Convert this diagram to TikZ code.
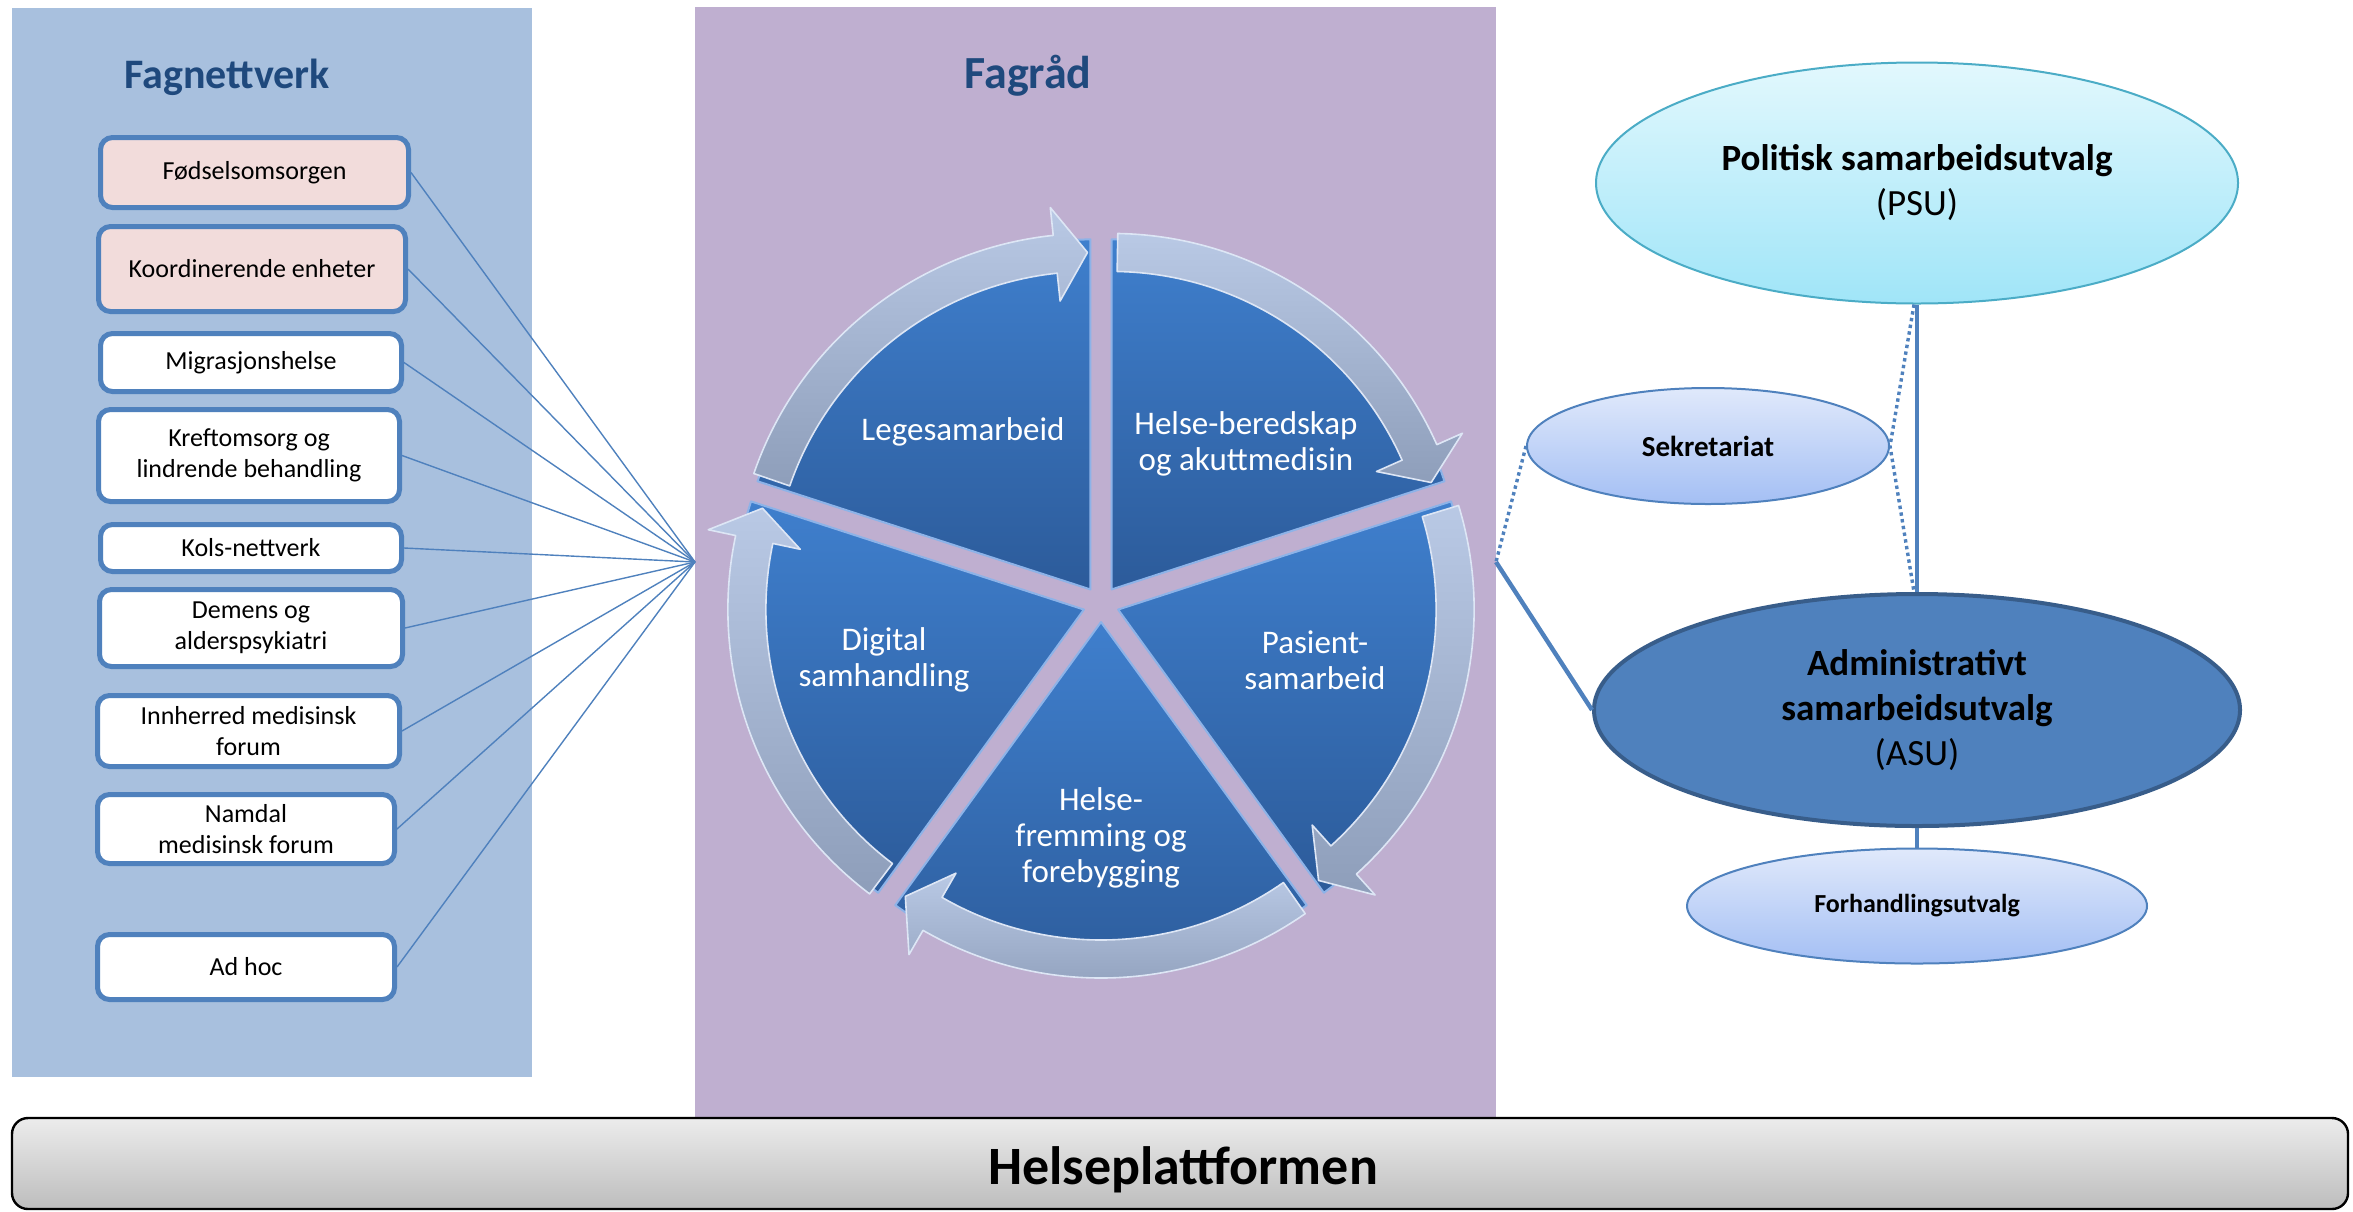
\documentclass[tikz,border=0pt]{standalone}
\usepackage{fontspec}
\setmainfont{Carlito}
\usetikzlibrary{shapes.geometric}
\definecolor{panelblue}{HTML}{A8C0DE}
\definecolor{panelpurple}{HTML}{BFAFD0}
\definecolor{boxborder}{HTML}{4F81BD}
\definecolor{pinkfill}{HTML}{F2DCDB}
\definecolor{titleblue}{HTML}{1F497D}
\definecolor{wedgetop}{HTML}{3F7FCD}
\definecolor{wedgebot}{HTML}{2C5B9A}
\definecolor{wedgeedge}{HTML}{8DB3E8}
\definecolor{arrtop}{HTML}{B9C9E5}
\definecolor{arrbot}{HTML}{8E9EBA}
\definecolor{arredge}{HTML}{DDE6F5}
\definecolor{psutop}{HTML}{E2F8FD}
\definecolor{psubot}{HTML}{A0E5F8}
\definecolor{psuedge}{HTML}{4BACC6}
\definecolor{smalltop}{HTML}{E0E9FB}
\definecolor{smallbot}{HTML}{A4BFF4}
\definecolor{asufill}{HTML}{4F81BD}
\definecolor{asuedge}{HTML}{385D8A}
\definecolor{linkblue}{HTML}{4F81BD}
\definecolor{bartop}{HTML}{ECECEC}
\definecolor{barbot}{HTML}{BDBDBD}

\newcommand\wedgeseg[1]{%
  \pgfmathsetmacro\wmid{#1+36}%
  \shade[shift={(\wmid:18)}, top color=wedgetop, bottom color=wedgebot,
         draw=wedgeedge, line width=1pt, line join=round]
    (0,0) -- ({#1}:350) arc[start angle={#1}, end angle={#1+72}, radius=175pt] -- cycle;
}
\newcommand\cyclearrow[1]{%
  \pgfmathsetmacro\wmid{#1+36}%
  \shade[shift={(\wmid:18)}, top color=arrtop, bottom color=arrbot,
         draw=arredge, line width=0.8pt, line join=round]
    ({#1+71}:356) arc[start angle={#1+71}, end angle={#1+6}, radius=178pt]
    -- ({#1+6}:384) -- ({#1+0.5}:337) -- ({#1+6}:290) -- ({#1+6}:318)
    arc[start angle={#1+6}, end angle={#1+71}, radius=159pt] -- cycle;
}

\begin{document}
\begin{tikzpicture}[x=0.5pt, y=-0.5pt,
  netbox/.style={draw=boxborder, line width=2.5pt, rounded corners=6pt, fill=white,
    align=center, inner sep=0pt, font=\fontsize{13pt}{15.5pt}\selectfont},
  pinkbox/.style={netbox, fill=pinkfill},
  hublink/.style={draw=linkblue, line width=0.7pt},
  paneltitle/.style={anchor=base, text=titleblue, font=\bfseries\fontsize{21pt}{24pt}\selectfont},
  wtext/.style={text=white, align=center, font=\fontsize{16.5pt}{18pt}\selectfont},
  bigell/.style={ellipse, inner sep=0pt, align=center, font=\fontsize{18.5pt}{22.5pt}\selectfont},
  smallell/.style={ellipse, inner sep=0pt, align=center, draw=boxborder, line width=1pt,
    top color=smalltop, bottom color=smallbot},
  link/.style={draw=linkblue, line width=2.2pt},
  dotlink/.style={draw=linkblue, line width=1.7pt, dash pattern=on 1.7pt off 1.7pt}
]
\useasboundingbox (0,0) rectangle (2353,1211);

% panels
\fill[panelblue] (12,8) rectangle (532,1077);
\fill[panelpurple] (695,7) rectangle (1496,1118);

% titles
\node[paneltitle] (fagnett) at (227,88) {Fagnettverk};
\node[paneltitle, font=\bfseries\fontsize{23pt}{26pt}\selectfont] (fagrad) at (1028,88) {Fagråd};

% network boxes
\node[pinkbox, minimum width=154pt, minimum height=35pt] (fod) at (254.5,172.5) {Fødselsomsorgen};
\node[pinkbox, minimum width=153.5pt, minimum height=42.5pt] (koord) at (252,269) {Koordinerende enheter};
\node[netbox, minimum width=150.5pt, minimum height=29pt] (migr) at (251,362.5) {Migrasjonshelse};
\node[netbox, minimum width=150.5pt, minimum height=46pt] (kreft) at (249,455.5) {Kreftomsorg og\\lindrende behandling};
\node[netbox, minimum width=150.5pt, minimum height=23.5pt] (kols) at (251,548) {Kols-nettverk};
\node[netbox, minimum width=151.5pt, minimum height=38.5pt] (demens) at (251,628) {Demens og\\alderspsykiatri};
\node[netbox, minimum width=151pt, minimum height=35.5pt] (innh) at (248.5,731) {Innherred medisinsk\\forum};
\node[netbox, minimum width=148.5pt, minimum height=34.5pt] (namdal) at (246,829) {Namdal\\medisinsk forum};
\node[netbox, minimum width=148.5pt, minimum height=32.5pt] (adhoc) at (246,967) {Ad hoc};

\coordinate (hubL) at (695,562);
\foreach \b in {fod,koord,migr,kreft,kols,demens,innh,namdal,adhoc}
  \draw[hublink] (\b.east) -- (hubL);

% cycle wheel
\begin{scope}[shift={(1101,604)}, y=0.5pt]
  \wedgeseg{90}
  \wedgeseg{18}
  \wedgeseg{-54}
  \wedgeseg{234}
  \wedgeseg{162}
  \cyclearrow{90}
  \cyclearrow{18}
  \cyclearrow{-54}
  \cyclearrow{234}
  \cyclearrow{162}
\end{scope}

\node[wtext] (lege) at (963,432) {Legesamarbeid};
\node[wtext] (bered) at (1246,444) {Helse-beredskap\\og akuttmedisin};
\node[wtext] (pasient) at (1315,660) {Pasient-\\samarbeid};
\node[wtext] (fremming) at (1101,838) {Helse-\\fremming og\\forebygging};
\node[wtext] (digital) at (884,660) {Digital\\samhandling};

% right side
\node[bigell, minimum width=321pt, minimum height=120.5pt, draw=psuedge, line width=1pt,
      top color=psutop, bottom color=psubot] (psu) at (1917,183)
      {\textbf{Politisk samarbeidsutvalg}\\(PSU)};
\node[smallell, minimum width=181pt, minimum height=58pt,
      font=\bfseries\fontsize{14.5pt}{17pt}\selectfont] (sek) at (1708,446) {Sekretariat};
\node[bigell, minimum width=323pt, minimum height=116pt, fill=asufill, draw=asuedge,
      line width=2pt] (asu) at (1917,710)
      {\textbf{Administrativt}\\\textbf{samarbeidsutvalg}\\(ASU)};
\node[smallell, minimum width=230pt, minimum height=57.5pt,
      font=\bfseries\fontsize{13pt}{16pt}\selectfont] (forh) at (1917,906) {Forhandlingsutvalg};

\coordinate (hubR) at (1496,562);
\draw[link] (psu.south) -- (asu.north);
\draw[link] (asu.south) -- (forh.north);
\draw[dotlink] ([xshift=-1.5pt]psu.south) -- (sek.east) -- ([xshift=-1.5pt]asu.north);
\draw[dotlink] (sek.west) -- (hubR);
\draw[link] (hubR) -- (asu.west);

% bottom bar
\node[draw=black, line width=1.2pt, rounded corners=8pt, top color=bartop, bottom color=barbot,
      minimum width=1168pt, minimum height=45.5pt, inner sep=0pt] (bar) at (1180,1163.5) {};
\node[anchor=base, font=\bfseries\fontsize{27pt}{30pt}\selectfont] (bartext) at (1183,1184) {Helseplattformen};
\end{tikzpicture}
\end{document}
